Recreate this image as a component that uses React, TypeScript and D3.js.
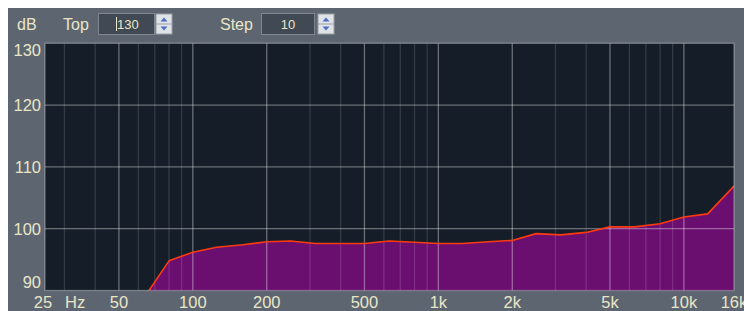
import React from "react";
import * as d3 from "d3";

const freqs = [63, 80, 100, 125, 160, 200, 250, 315, 400, 500, 630, 800, 1000, 1250, 1600, 2000, 2500, 3150, 4000, 5000, 6300, 8000, 10000, 12500, 16000];
const levels = [88.7, 94.8, 96.2, 97.0, 97.4, 97.9, 98.0, 97.6, 97.6, 97.6, 98.0, 97.8, 97.6, 97.6, 97.9, 98.1, 99.2, 99.0, 99.4, 100.3, 100.3, 100.8, 101.9, 102.4, 106.9];

const majorFreqs = [50, 100, 200, 500, 1000, 2000, 5000, 10000];
const minorFreqs = [30, 40, 60, 70, 80, 90, 300, 400, 600, 700, 800, 900, 3000, 4000, 6000, 7000, 8000, 9000];
const freqLabels = [
  { f: 25, t: "25" },
  { f: 50, t: "50" },
  { f: 100, t: "100" },
  { f: 200, t: "200" },
  { f: 500, t: "500" },
  { f: 1000, t: "1k" },
  { f: 2000, t: "2k" },
  { f: 5000, t: "5k" },
  { f: 10000, t: "10k" },
  { f: 16000, t: "16k" },
];
const dbTicks = [90, 100, 110, 120, 130];
const topValue = "130";
const stepValue = "10";

const W = 744;
const H = 311;
const plot = { left: 45, right: 734, top: 43.3, bottom: 290.5 };
const txt = "#e9e5c8";
const font = "'Liberation Sans', Arial, sans-serif";

const Spinner = ({ x, y }: { x: number; y: number }) => (
  <g transform={`translate(${x},${y})`}>
    <rect x={0} y={0} width={17} height={21} fill="#9aa0a8" />
    <rect x={1} y={1} width={15} height={9} fill="#dfe2e6" />
    <rect x={1} y={11} width={15} height={9} fill="#dfe2e6" />
    <path d="M5,8 L8.5,4 L12,8 Z" fill="#4a6fc0" />
    <path d="M5,13 L8.5,17 L12,13 Z" fill="#4a6fc0" />
  </g>
);

export default function App() {
  const x = d3.scaleLog().domain([25, 16000]).range([plot.left, plot.right]);
  const y = d3.scaleLinear().domain([90, 130]).range([plot.bottom, plot.top]);

  const pts: [number, number][] = freqs.map((f, i) => [f, levels[i]]);
  const area = d3
    .area<[number, number]>()
    .x((d) => x(d[0]))
    .y0(plot.bottom + 5)
    .y1((d) => y(d[1]));
  const line = d3
    .line<[number, number]>()
    .x((d) => x(d[0]))
    .y((d) => y(d[1]));

  return (
    <svg
      width={W}
      height={H}
      style={{ position: "fixed", left: 0, top: 0, display: "block" }}
      fontFamily={font}
    >
      <rect x={0} y={0} width={W} height={H} fill="#ffffff" />
      <rect x={8} y={8} width={W - 8} height={H - 8} fill="#5d6670" />

      {/* header controls */}
      <text x={17} y={29.5} fontSize={16} fill={txt}>dB</text>
      <text x={63} y={29.5} fontSize={16} fill={txt}>Top</text>
      <rect x={98.5} y={13.5} width={56} height={21} fill="#414a54" stroke="#7f868e" />
      <line x1={116.5} y1={17} x2={116.5} y2={31} stroke={txt} strokeWidth={1} />
      <text x={117} y={29} fontSize={13} fill={txt}>{topValue}</text>
      <Spinner x={155.5} y={13.5} />
      <text x={220} y={29.5} fontSize={16} fill={txt}>Step</text>
      <rect x={261.5} y={13.5} width={53} height={21} fill="#414a54" stroke="#7f868e" />
      <text x={288} y={29} fontSize={13} fill={txt} textAnchor="middle">{stepValue}</text>
      <Spinner x={317.5} y={13.5} />

      <defs>
        <clipPath id="plotClip">
          <rect x={plot.left} y={plot.top} width={plot.right - plot.left} height={plot.bottom - plot.top} />
        </clipPath>
      </defs>

      {/* plot area */}
      <rect x={plot.left} y={plot.top} width={plot.right - plot.left} height={plot.bottom - plot.top} fill="#151e28" />
      <g clipPath="url(#plotClip)">
        <path d={area(pts) || ""} fill="#6a0f70" />
        {minorFreqs.map((f) => (
          <line key={"m" + f} x1={x(f)} x2={x(f)} y1={plot.top} y2={plot.bottom} stroke="rgba(255,255,255,0.13)" strokeWidth={1.3} />
        ))}
        {majorFreqs.map((f) => (
          <line key={"M" + f} x1={x(f)} x2={x(f)} y1={plot.top} y2={plot.bottom} stroke="rgba(255,255,255,0.36)" strokeWidth={1.3} />
        ))}
        {dbTicks.slice(1, -1).map((v) => (
          <line key={"h" + v} x1={plot.left} x2={plot.right} y1={y(v)} y2={y(v)} stroke="rgba(255,255,255,0.36)" strokeWidth={1.3} />
        ))}
        <path d={line(pts) || ""} fill="none" stroke="#ff3a10" strokeWidth={1.6} strokeLinejoin="round" />
      </g>
      <rect
        x={plot.left}
        y={plot.top}
        width={plot.right - plot.left}
        height={plot.bottom - plot.top}
        fill="none"
        stroke="rgba(255,255,255,0.32)"
        strokeWidth={1.3}
      />

      {/* y labels */}
      {dbTicks.map((v) => {
        let cy = y(v);
        if (v === 130) cy = plot.top + 7;
        if (v === 90) cy = plot.bottom - 8.5;
        return (
          <text key={"yl" + v} x={41} y={cy} dy="0.36em" fontSize={16.5} fill={txt} textAnchor="end">
            {v}
          </text>
        );
      })}

      {/* x labels */}
      {freqLabels.map((d) => (
        <text key={"xl" + d.f} x={x(d.f) - (d.f === 25 ? 2 : 0)} y={308} fontSize={16.5} fill={txt} textAnchor="middle">
          {d.t}
        </text>
      ))}
      <text x={65} y={308} fontSize={16.5} fill={txt}>Hz</text>
    </svg>
  );
}
